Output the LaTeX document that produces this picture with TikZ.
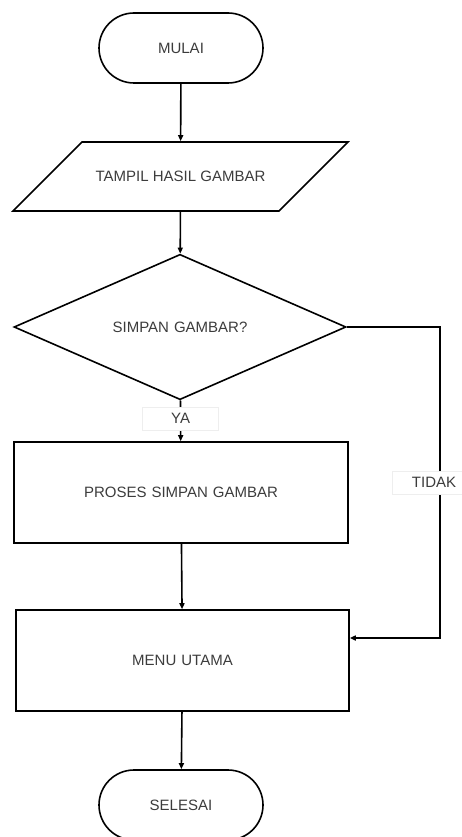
\documentclass[tikz,border=0pt]{standalone}
\usepackage{fontspec}
\setmainfont{Liberation Sans}
\usetikzlibrary{shapes.geometric, shapes.misc, arrows.meta}
\definecolor{ink}{RGB}{60, 60, 60}
\definecolor{faint}{RGB}{238, 238, 238}
\newcommand*{\lw}{1.6}

\begin{document}
\begin{tikzpicture}[
   x=1pt, y=-1pt,
   font=\fontsize{15}{17}\selectfont,
   termbox/.style={rounded rectangle, draw=black, line width=\lw, text=ink,
                   inner sep=0, minimum width=164, minimum height=70},
   iobox/.style={trapezium, trapezium left angle=45, trapezium right angle=135,
                 trapezium stretches body, draw=black, line width=\lw, text=ink,
                 inner xsep=0, inner ysep=29.5, text height=10, text depth=0,
                 minimum width=335},
   askbox/.style={diamond, draw=black, line width=\lw, text=ink,
                  inner sep=0, minimum width=332, minimum height=100},
   procbox/.style={rectangle, draw=black, line width=\lw, text=ink,
                   inner sep=0, minimum width=334, minimum height=101},
   lblbox/.style={rectangle, draw=faint, fill=white, text=ink, line width=0.6,
                  inner sep=0, minimum width=76, minimum height=23},
   flow/.style={-{Triangle[length=6, width=5]}, line width=\lw}
  ]

  \useasboundingbox (0, 0) rectangle (462, 837);

  \node (start) at (181, 48) [termbox] {MULAI};

  \node (show) at (180.5, 176.5) [iobox] {TAMPIL HASIL GAMBAR};

  \node (ask) at (180, 327) [askbox] {SIMPAN\,\,GAMBAR?};

  \node (save) at (181, 492.5) [procbox] {PROSES\,\,SIMPAN\,\,GAMBAR};

  \node (menu) at (182.5, 660.5) [procbox, minimum width=333] {MENU\,\,UTAMA};

  \node (stop) at (181, 805) [termbox] {SELESAI};

  \coordinate (turn) at (440, 638);

  \foreach \B/\E in {start/show, show/ask, save/menu, menu/stop} {
    \draw[flow] (\B) -- (\E);
  }

  \draw[flow] (ask) -- node[lblbox, pos=0.45] {YA} (save);

  \draw[flow] (ask.east) -| node[lblbox, pos=0.75, minimum width=84, xshift=-6pt] {TIDAK} (turn)
    -- ([yshift=22.5pt]menu.east);

\end{tikzpicture}
\end{document}
